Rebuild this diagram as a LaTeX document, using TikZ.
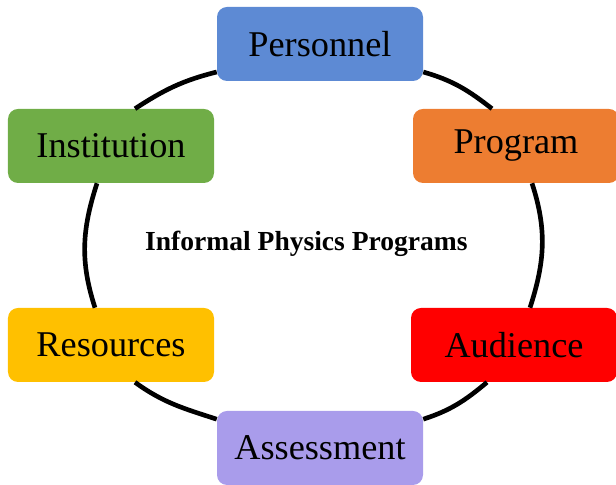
\documentclass[tikz,border=0pt]{standalone}
\usepackage{fontspec}
\setmainfont{Liberation Serif}
\usepackage{tikz}
\usetikzlibrary{calc,positioning}

\definecolor{persblue}{HTML}{5D8AD4}
\definecolor{progorange}{HTML}{ED7D31}
\definecolor{instgreen}{HTML}{70AD47}
\definecolor{resyellow}{HTML}{FFC000}
\definecolor{audred}{HTML}{FF0000}
\definecolor{asslavender}{HTML}{A99CEB}

\tikzset{
	box/.style={shape=rectangle,rounded corners=0.25cm,minimum width=5.15cm,minimum height=1.85cm,inner sep=0pt,font=\fontsize{25.8}{30}\selectfont},
	ring/.style={line width=3.3pt}
}

\begin{document}
\begin{tikzpicture}
		\useasboundingbox (0,0) rectangle (15.4,12.125);
		\begin{scope}
			\node(pers) [box,fill=persblue] at (8.0,11.025) {Personnel};
			\node(inst) [box,fill=instgreen] at (2.775,8.475) {Institution};
			\node(prog) [box,fill=progorange] at (12.9,8.475) {Program};
			\node(res) [box,fill=resyellow] at (2.775,3.5) {Resources};
			\node(aud) [box,fill=audred] at (12.85,3.5) {Audience};
			\node(ass) [box,fill=asslavender] at (8.0,0.925) {Assessment};
			\node(title) at (7.66,6.03) {\fontsize{19.6}{24}\selectfont\bfseries Informal Physics Programs};
			\draw[ring] ([xshift=0.6cm]inst.north) to[out=33,in=194] ([yshift=-0.7cm]pers.west);
			\draw[ring] ([yshift=-0.7cm]pers.east) to[out=-16,in=142] ([xshift=-0.6cm]prog.north);
			\draw[ring] ([xshift=0.4cm]prog.south) to[out=-72,in=72] ([xshift=0.4cm]aud.north);
			\draw[ring] ([xshift=-0.675cm]aud.south) to[out=220,in=18] ([yshift=0.72cm]ass.east);
			\draw[ring] ([yshift=0.72cm]ass.west) to[out=162,in=-36] ([xshift=0.6cm]res.south);
			\draw[ring] ([xshift=-0.4cm]res.north) to[out=108,in=-108] ([xshift=-0.35cm]inst.south);
		\end{scope}
	\end{tikzpicture}
\end{document}
